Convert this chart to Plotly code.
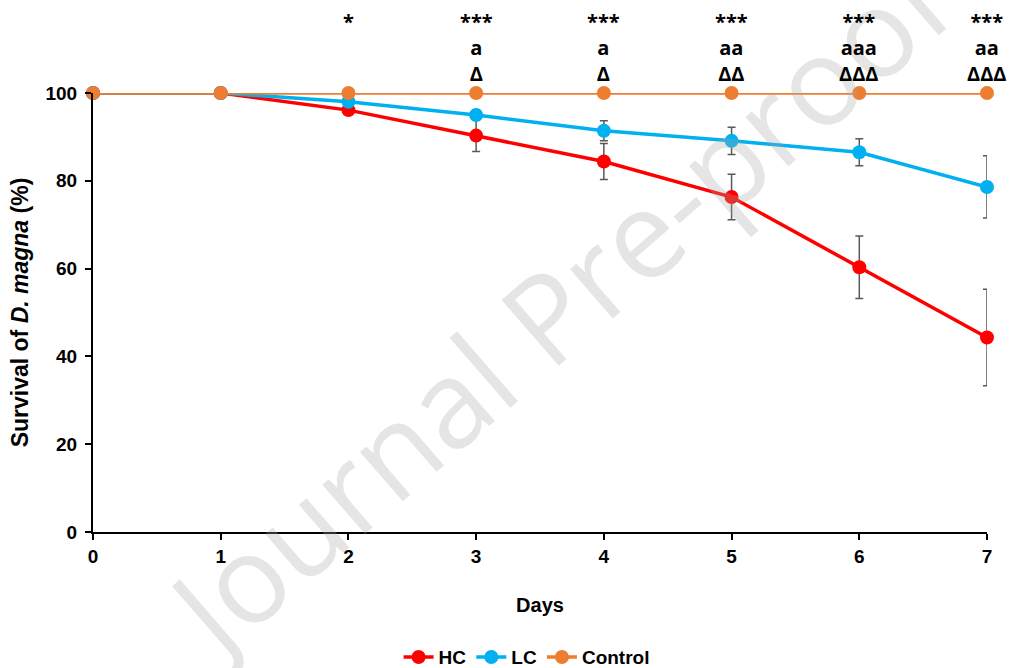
import plotly.graph_objects as go

days = [0, 1, 2, 3, 4, 5, 6, 7]
hc = [100, 100, 96.1, 90.3, 84.4, 76.3, 60.3, 44.3]
hc_err = [0, 0, 1.0, 3.6, 4.1, 5.2, 7.1, 11.0]
lc = [100, 100, 98.0, 95.0, 91.4, 89.1, 86.5, 78.6]
lc_err = [0, 0, 0.4, 1.1, 2.3, 3.1, 3.1, 7.1]
control = [100, 100, 100, 100, 100, 100, 100, 100]

sig_days = [2, 3, 4, 5, 6, 7]
sig_star = ["*", "***", "***", "***", "***", "***"]
sig_a = ["", "a", "a", "aa", "aaa", "aa"]
sig_delta = ["", "Δ", "Δ", "ΔΔ", "ΔΔΔ", "ΔΔΔ"]

font = "Liberation Sans, Arial, sans-serif"
err_color = "#595959"

fig = go.Figure()
fig.add_trace(go.Scatter(
    x=days, y=hc, name="<b>HC</b>", mode="lines+markers",
    line=dict(color="#FF0000", width=3.5),
    marker=dict(color="#FF0000", size=14),
    error_y=dict(type="data", array=hc_err, color=err_color, thickness=1.5, width=4),
    cliponaxis=False))
fig.add_trace(go.Scatter(
    x=days, y=lc, name="<b>LC</b>", mode="lines+markers",
    line=dict(color="#00B0F0", width=3.5),
    marker=dict(color="#00B0F0", size=14),
    error_y=dict(type="data", array=lc_err, color=err_color, thickness=1.5, width=4),
    cliponaxis=False))
fig.add_trace(go.Scatter(
    x=days, y=control, name="<b>Control</b>", mode="lines+markers",
    line=dict(color="#ED7D31", width=3.5),
    marker=dict(color="#ED7D31", size=14),
    cliponaxis=False))

ann = []
ann.append(dict(x=0.52, y=0.52, xref="paper", yref="paper", text="Journal Pre-proof",
                showarrow=False, textangle=-41,
                font=dict(family="Open Sans, sans-serif", size=122, color="rgba(170,170,170,0.3)")))
for d, s, a, dl in zip(sig_days, sig_star, sig_a, sig_delta):
    lines = [t for t in (s, a, dl) if t]
    ann.append(dict(x=d, y=1.163, xref="x", yref="paper",
                    text="<b>" + "<br>".join(lines) + "</b>",
                    showarrow=False, yanchor="top", yshift=15, align="center",
                    font=dict(family="Open Sans, sans-serif", size=20, color="black")))

fig.update_layout(
    width=1016, height=668,
    margin=dict(l=93, r=29, t=93, b=136, autoexpand=False),
    paper_bgcolor="white", plot_bgcolor="white",
    font=dict(family=font, color="black"),
    showlegend=True,
    legend=dict(orientation="h", x=0.485, xanchor="center", y=-0.285, yanchor="middle",
                font=dict(family=font, size=19, color="black"), traceorder="normal"),
    annotations=ann,
    xaxis=dict(range=[0, 7], tickvals=days, ticktext=["<b>%d</b>" % d for d in days],
               showgrid=False, zeroline=False, showline=True, linecolor="black", linewidth=2,
               ticks="outside", ticklen=6, tickwidth=1.5, tickcolor="black",
               tickfont=dict(size=19, family=font),
               title=dict(text="<b>Days</b>", font=dict(size=20, family=font), standoff=32)),
    yaxis=dict(range=[0, 100], tickvals=[0, 20, 40, 60, 80, 100],
               ticktext=["<b>%d</b>" % v for v in [0, 20, 40, 60, 80, 100]],
               showgrid=False, zeroline=False, showline=True, linecolor="black", linewidth=2,
               ticks="outside", ticklen=6, tickwidth=1.5, tickcolor="black",
               ticklabelstandoff=4,
               tickfont=dict(size=19, family=font),
               title=dict(text="<b>Survival of <i>D. magna</i> (%)</b>", font=dict(size=23, family=font), standoff=10)),
)

fig.write_html("out.html")
